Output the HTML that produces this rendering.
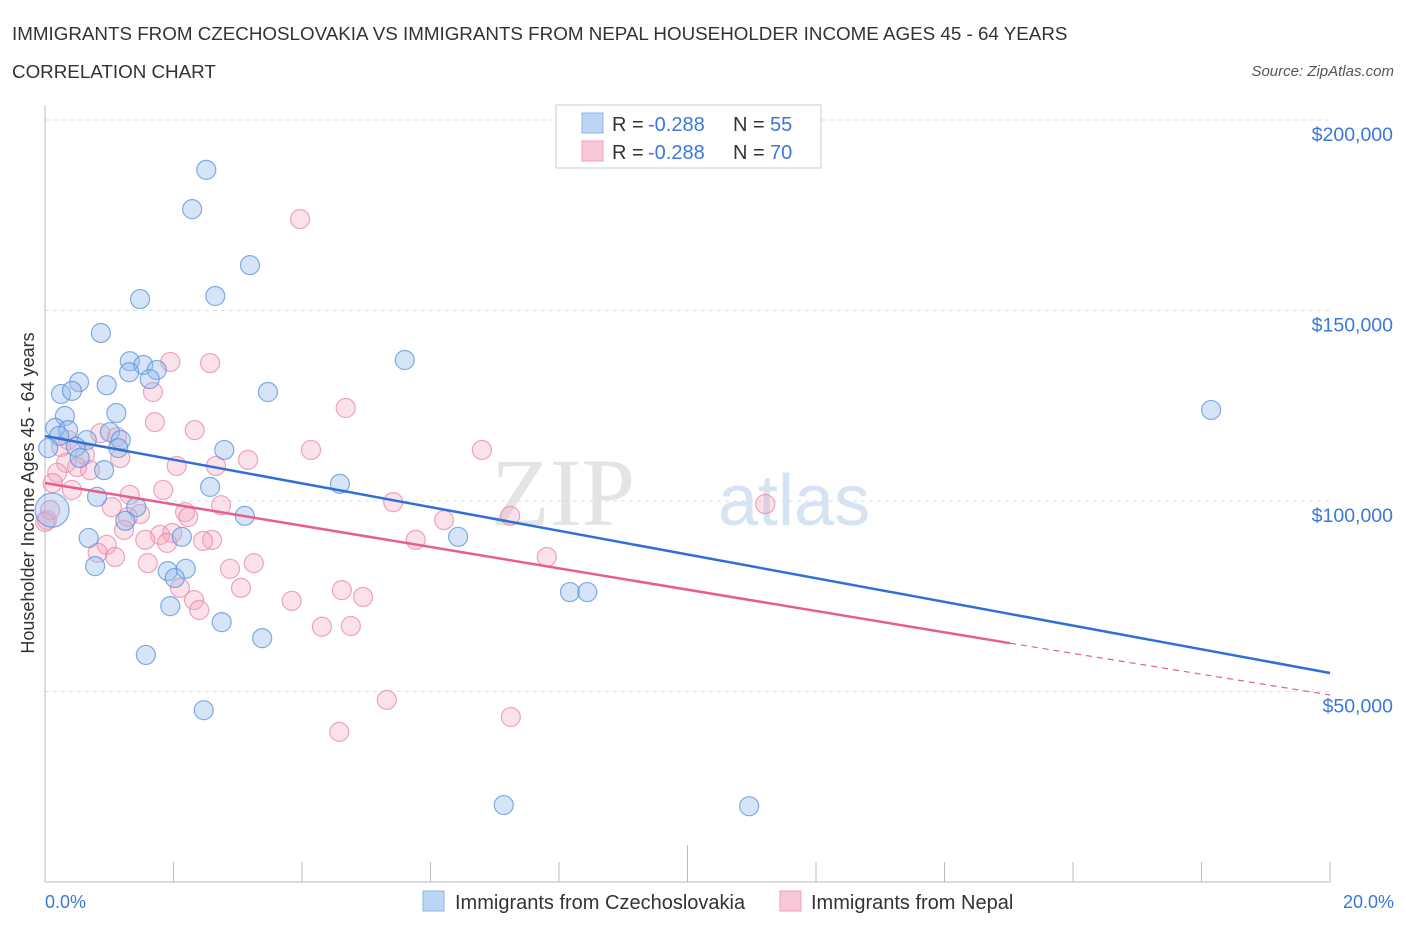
<!DOCTYPE html>
<html><head><meta charset="utf-8"><style>
body{margin:0;background:#fff;font-family:"Liberation Sans",sans-serif;}
svg{display:block}
</style></head><body>
<svg id="chart" width="1406" height="930" viewBox="0 0 1406 930">
<text x="12" y="40" font-size="18.8" fill="#333">IMMIGRANTS FROM CZECHOSLOVAKIA VS IMMIGRANTS FROM NEPAL HOUSEHOLDER INCOME AGES 45 - 64 YEARS</text>
<text x="12" y="78" font-size="18.8" fill="#333">CORRELATION CHART</text>
<text x="1394" y="76" font-size="15" fill="#555" font-style="italic" text-anchor="end">Source: ZipAtlas.com</text>
<text x="635" y="525" font-size="96" fill="#e4e4e4" text-anchor="end" font-family="Liberation Serif,serif">ZIP</text>
<text x="718" y="525" font-size="72" fill="#d6e3f3">atlas</text>
<g id="grid"></g>
<line x1="45" y1="105" x2="45" y2="882" stroke="#bbb"/>
<line x1="45" y1="882" x2="1330" y2="882" stroke="#bbb"/>
<text transform="translate(34,493) rotate(-90)" font-size="18" fill="#333" text-anchor="middle">Householder Income Ages 45 - 64 years</text>
<text x="45" y="908" font-size="18" fill="#3b78d8">0.0%</text>
<text x="1394" y="908" font-size="18" fill="#3b78d8" text-anchor="end">20.0%</text>
<g id="pts"></g>
<g id="trend"></g>
<g>
<rect x="556" y="105" width="265" height="63" fill="#fff" stroke="#ccc"/>
<rect x="582" y="113" width="21" height="20" fill="#bcd5f5" stroke="#8cb4e6"/>
<rect x="582" y="141" width="21" height="20" fill="#f9c8d8" stroke="#ee9fbb"/>
<text x="612" y="131" font-size="20" fill="#333">R =</text>
<text x="648" y="131" font-size="20" fill="#3b78d8">-0.288</text>
<text x="733" y="131" font-size="20" fill="#333">N =</text>
<text x="770" y="131" font-size="20" fill="#3b78d8">55</text>
<text x="612" y="159" font-size="20" fill="#333">R =</text>
<text x="648" y="159" font-size="20" fill="#3b78d8">-0.288</text>
<text x="733" y="159" font-size="20" fill="#333">N =</text>
<text x="770" y="159" font-size="20" fill="#3b78d8">70</text>
</g>
<g>
<rect x="423" y="891" width="21" height="20" fill="#bcd5f5" stroke="#8cb4e6"/>
<text x="455" y="909" font-size="20" fill="#333">Immigrants from Czechoslovakia</text>
<rect x="780" y="891" width="21" height="20" fill="#f9c8d8" stroke="#ee9fbb"/>
<text x="811" y="909" font-size="20" fill="#333">Immigrants from Nepal</text>
</g>
</svg>
<script>
const yTicks=[50000,100000,150000,200000];
const yTickLabels=["$50,000","$100,000","$150,000","$200,000"];
const xTicks=[0,2,4,6,8,10,12,14,16,18,20];
const blueX=[2.51,2.29,3.19,1.48,2.65,0.87,1.32,1.53,1.74,1.31,1.63,0.53,0.96,0.25,0.42,5.60,3.47,18.15,1.11,0.31,0.16,0.36,0.22,1.01,0.65,1.18,0.48,1.14,2.79,0.54,0.92,4.59,2.57,0.81,0.11,1.42,3.11,1.25,0.68,2.13,6.43,0.78,1.91,2.19,2.02,8.17,8.44,1.95,2.75,3.38,1.57,2.47,7.14,10.96,0.05];
const blueY=[186.9,176.6,161.9,153.0,153.8,144.1,136.7,135.7,134.4,133.8,132.0,131.2,130.4,128.1,128.9,137.0,128.6,123.9,123.1,122.3,119.2,118.6,117.1,118.1,116.0,116.0,114.2,113.9,113.4,111.3,108.1,104.5,103.7,101.1,97.6,98.4,96.1,94.8,90.3,90.6,90.6,82.9,81.6,82.2,79.8,76.1,76.1,72.4,68.2,64.0,59.6,45.1,20.2,19.9,113.9];
const pinkX=[3.97,1.95,2.57,1.68,4.68,1.71,2.33,0.86,1.12,0.36,6.80,4.14,0.25,1.17,0.62,3.16,2.05,0.33,2.66,0.50,0.70,0.19,0.12,0.42,1.84,1.32,5.42,2.74,1.04,11.21,1.48,2.18,1.29,7.24,6.21,2.23,0.03,1.23,1.79,1.98,1.56,2.60,2.46,1.90,5.77,0.96,0.82,1.09,7.81,1.60,3.25,2.88,3.05,2.10,4.62,4.95,2.32,3.84,2.40,4.31,4.76,5.32,7.25,4.58,0.08,0.0];
const pinkY=[174.0,136.5,136.2,128.6,124.4,120.7,118.6,117.8,116.8,116.0,113.4,113.4,114.2,111.3,112.1,110.8,109.2,110.0,109.2,108.9,108.1,107.4,104.7,102.9,102.9,101.6,99.7,98.9,98.4,99.2,96.6,97.1,95.8,96.1,95.0,95.8,95.0,92.4,91.1,91.6,89.8,89.8,89.5,89.0,89.8,88.5,86.4,85.3,85.3,83.7,83.7,82.2,77.2,77.2,76.6,74.8,74.0,73.8,71.4,67.0,67.2,47.8,43.3,39.4,97.6,94.5];
const blueTrendX=[0,20];
const blueTrendY=[117060,54860];
const pinkTrendX=[0,15.02,20];
const pinkTrendY=[104720,62680,49080];
const NS="http://www.w3.org/2000/svg";
function sx(v){return 45+v/20*1285;}
function sy(v){return 882-v/50000*190.5;}
function mk(t,a,p){const e=document.createElementNS(NS,t);for(const k in a)e.setAttribute(k,a[k]);p.appendChild(e);return e;}
const grid=document.getElementById('grid');
yTicks.forEach((v,i)=>{
 const l=mk('line',{x1:45,x2:1330,y1:sy(v),y2:sy(v),stroke:'#ddd','stroke-dasharray':'4,4'},grid);
 
 
 const t=mk('text',{x:1393,y:sy(v)+21,'font-size':19.5,fill:'#3b78d8','text-anchor':'end'},grid);
 t.textContent=yTickLabels[i];
 
 
});
xTicks.forEach((v,i)=>{
 const l=mk('line',{x1:sx(v),x2:sx(v),y1:(i==5?845:862),y2:882,stroke:'#bbb'},grid);
 
 
});
const pts=document.getElementById('pts');
pinkX.forEach((x,i)=>{
 const c=mk('circle',{cx:sx(x),cy:sy(pinkY[i]*1000),r:9.5,fill:'rgba(244,168,192,0.35)',stroke:'rgba(232,130,165,0.7)','stroke-width':1.2},pts);
 
 
});
blueX.forEach((x,i)=>{
 const c=mk('circle',{cx:sx(x),cy:sy(blueY[i]*1000),r:(i==34?17:9.5),fill:'rgba(150,188,236,0.4)',stroke:'rgba(90,145,220,0.75)','stroke-width':1.2},pts);
 
 
});
const tr=document.getElementById('trend');
const bl=mk('line',{x1:sx(blueTrendX[0]),y1:sy(blueTrendY[0]),x2:sx(blueTrendX[1]),y2:sy(blueTrendY[1]),stroke:'#2f6fd6','stroke-width':2.5},tr);


const pl=mk('line',{x1:sx(pinkTrendX[0]),y1:sy(pinkTrendY[0]),x2:sx(pinkTrendX[1]),y2:sy(pinkTrendY[1]),stroke:'#e45f8d','stroke-width':2.5},tr);


const pd=mk('line',{x1:sx(pinkTrendX[1]),y1:sy(pinkTrendY[1]),x2:sx(pinkTrendX[2]),y2:sy(pinkTrendY[2]),stroke:'#e45f8d','stroke-width':1.2,'stroke-dasharray':'6,5'},tr);


</script>
</body></html>
